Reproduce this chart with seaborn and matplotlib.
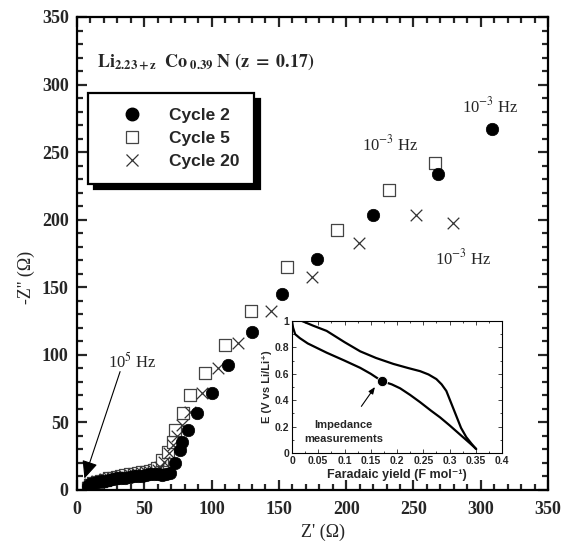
import matplotlib
matplotlib.use("Agg")
import matplotlib.pyplot as plt
import seaborn as sns
import pandas as pd
from matplotlib.ticker import MultipleLocator
from matplotlib.lines import Line2D

# ---------------- data ----------------
c2_re = [8, 10, 12, 15, 18, 21, 24, 27, 30, 33, 36, 39, 42, 45, 48, 51, 54, 57, 60, 63, 66, 69, 73, 76.5, 78, 82.7, 89, 100, 112.4, 130, 152, 178, 220, 268, 308]
c2_im = [3, 4.5, 5.5, 6, 6.5, 7, 7.5, 8, 8.5, 8.8, 9, 9.5, 10, 10.3, 10.7, 11, 11.5, 12, 12, 11, 11.5, 12.4, 19.8, 29.6, 35.7, 44.4, 56.8, 71.6, 92.5, 117, 145, 171, 203.5, 234, 267]

c5_re = [8, 10, 12, 15, 18, 21, 24, 27, 30, 33, 36, 39, 42, 45, 48, 51, 54, 57, 59.2, 62.9, 67.8, 71.5, 72.8, 79, 84, 95, 110, 129.3, 155.8, 193, 232, 266]
c5_im = [1.5, 4, 5, 6, 7, 7.5, 8.5, 9, 9.5, 10.5, 11, 11.5, 12, 12.5, 13, 13.5, 14, 15, 16, 22.2, 28.3, 35.7, 44.4, 56.8, 70.3, 86.8, 107.3, 132.5, 164.8, 192.4, 222, 242]

c20_re = [8, 10, 12, 15, 18, 21, 24, 27, 30, 33, 36, 39, 42, 45, 48, 51, 54, 57, 60, 62, 65, 68, 71, 74, 78, 84, 92.6, 105, 119.8, 143.9, 174.4, 209.5, 251.6, 279.6]
c20_im = [2, 4.5, 5.5, 6.5, 7, 8, 8.5, 9, 9.5, 10, 10.5, 11, 11.5, 12, 12.5, 13, 13.5, 14, 14.5, 17, 21, 27, 33, 40, 48, 58, 71.6, 90, 108.6, 132.5, 157.9, 182.6, 203.5, 197.4]

series_labels = ["Cycle 2", "Cycle 5", "Cycle 20"]

# inset: potential vs faradaic yield
dis_x = [0.0, 0.002, 0.006, 0.015, 0.03, 0.066, 0.1, 0.13, 0.15, 0.171, 0.19, 0.206, 0.225, 0.244, 0.265, 0.282, 0.3, 0.32, 0.34, 0.351]
dis_y = [1.0, 0.95, 0.9, 0.87, 0.83, 0.76, 0.7, 0.645, 0.6, 0.545, 0.52, 0.49, 0.44, 0.385, 0.32, 0.27, 0.21, 0.14, 0.07, 0.03]
chg_x = [0.019, 0.04, 0.066, 0.1, 0.13, 0.16, 0.193, 0.22, 0.244, 0.26, 0.275, 0.285, 0.294, 0.303, 0.313, 0.322, 0.332, 0.342, 0.35]
chg_y = [1.0, 0.965, 0.925, 0.84, 0.77, 0.72, 0.675, 0.645, 0.62, 0.595, 0.56, 0.52, 0.47, 0.38, 0.28, 0.19, 0.12, 0.07, 0.033]
meas_x = [0.171]
meas_y = [0.545]

x_ticks = [0, 50, 100, 150, 200, 250, 300, 350]
y_ticks = [0, 50, 100, 150, 200, 250, 300, 350]
inset_x_ticks = [0, 0.05, 0.1, 0.15, 0.2, 0.25, 0.3, 0.35, 0.4]
inset_x_labels = ["0", "0.05", "0.1", "0.15", "0.2", "0.25", "0.3", "0.35", "0.4"]
inset_y_ticks = [0, 0.2, 0.4, 0.6, 0.8, 1.0]
inset_y_labels = ["0", "0.2", "0.4", "0.6", "0.8", "1"]

# ---------------- style ----------------
sns.set_theme(style="ticks")
plt.rcParams["font.family"] = ["Liberation Serif", "DejaVu Serif"]
plt.rcParams["mathtext.fontset"] = "stix"
plt.rcParams["axes.linewidth"] = 1.6

df = pd.concat([
    pd.DataFrame({"re": c2_re, "im": c2_im, "cycle": series_labels[0]}),
    pd.DataFrame({"re": c5_re, "im": c5_im, "cycle": series_labels[1]}),
    pd.DataFrame({"re": c20_re, "im": c20_im, "cycle": series_labels[2]}),
])

fig = plt.figure(figsize=(5.61, 5.41), dpi=100)
ax = fig.add_axes([0.1373, 0.0943, 0.8396, 0.8743])

sub = df[df.cycle == "Cycle 2"]
sns.scatterplot(data=sub, x="re", y="im", ax=ax, marker="o", color="black",
                s=80, edgecolor="black", linewidth=0.5, legend=False, zorder=3)
sub = df[df.cycle == "Cycle 5"]
sns.scatterplot(data=sub, x="re", y="im", ax=ax, marker="s", s=65,
                facecolor="white", edgecolor="#444444", linewidth=0.9, legend=False, zorder=2)
sub = df[df.cycle == "Cycle 20"]
sns.scatterplot(data=sub, x="re", y="im", ax=ax, marker="x", s=70,
                color="#333333", linewidth=0.9, legend=False, zorder=2)

ax.set_xlim(0, 350)
ax.set_ylim(0, 350)
ax.set_xticks(x_ticks)
ax.set_yticks(y_ticks)
ax.xaxis.set_minor_locator(MultipleLocator(10))
ax.yaxis.set_minor_locator(MultipleLocator(10))
ax.tick_params(which="both", direction="in", top=True, right=True, width=1.6)
ax.tick_params(which="major", length=7)
ax.tick_params(which="minor", length=4)
ax.tick_params(axis="x", pad=8)
ax.tick_params(axis="y", pad=6)
for lab in ax.get_xticklabels() + ax.get_yticklabels():
    lab.set_fontweight("bold")
    lab.set_fontsize(13)
for sp in ax.spines.values():
    sp.set_linewidth(1.6)
    sp.set_color("black")

ax.set_xlabel("Z' (Ω)", fontsize=13)
ax.set_ylabel("-Z'' (Ω)", fontsize=13)
ax.xaxis.set_label_coords(0.522, -0.072)
ax.yaxis.set_label_coords(-0.09, 0.45)

# composition text
ax.text(14.9, 313, r"$\mathbf{Li}_{\mathbf{2.23+z}}\ \ \mathbf{Co}_{\ \mathbf{0.39}}\ \mathbf{N\ (z\ =\ 0.17)}$",
        fontsize=13, ha="left", va="baseline")

# frequency annotations
ax.text(306.8, 283.5, r"10$^{-3}$ Hz", fontsize=12, ha="center", va="center")
ax.text(232.5, 255.4, r"10$^{-3}$ Hz", fontsize=12, ha="center", va="center")
ax.text(286.8, 171.7, r"10$^{-3}$ Hz", fontsize=12, ha="center", va="center")
ax.text(41.2, 95, r"10$^{5}$ Hz", fontsize=12, ha="center", va="center")
ax.annotate("", xy=(5.5, 8.5), xytext=(32, 87.6),
            arrowprops=dict(arrowstyle="-|>,head_length=0.9,head_width=0.4",
                            color="black", lw=0.8, shrinkA=0, shrinkB=0))

# legend
handles = [
    Line2D([], [], marker="o", ls="none", color="black", markersize=9),
    Line2D([], [], marker="s", ls="none", markerfacecolor="white",
           markeredgecolor="#444444", markersize=8, markeredgewidth=0.9),
    Line2D([], [], marker="x", ls="none", color="#333333", markersize=9, markeredgewidth=0.9),
]
leg = fig.legend(handles, series_labels, loc="upper left",
                 bbox_to_anchor=(88 / 561, 1 - 93 / 541),
                 prop={"family": ["Liberation Sans", "DejaVu Sans"], "weight": "bold", "size": 12.5},
                 frameon=True, fancybox=False, edgecolor="black",
                 shadow={"color": "black", "alpha": 1, "ox": 4, "oy": -4},
                 handlelength=3.4, handletextpad=0.4, labelspacing=0.45,
                 borderpad=0.85, borderaxespad=0)
leg.get_frame().set_linewidth(1.6)

# ---------------- inset ----------------
axi = fig.add_axes([292 / 561, 1 - 453 / 541, 210 / 561, 132 / 541])
sfam = ["Liberation Sans", "DejaVu Sans"]
sns.lineplot(x=dis_x, y=dis_y, ax=axi, sort=False, color="black", lw=1.6, estimator=None)
sns.lineplot(x=chg_x, y=chg_y, ax=axi, sort=False, color="black", lw=1.6, estimator=None)
sns.scatterplot(x=meas_x, y=meas_y, ax=axi, color="black", s=55, zorder=4, legend=False)
axi.set_xlim(0, 0.4)
axi.set_ylim(0, 1)
axi.set_xticks(inset_x_ticks)
axi.set_xticklabels(inset_x_labels)
axi.set_yticks(inset_y_ticks)
axi.set_yticklabels(inset_y_labels)
axi.xaxis.set_minor_locator(MultipleLocator(0.025))
axi.yaxis.set_minor_locator(MultipleLocator(0.1))
axi.tick_params(which="both", direction="in", top=True, right=True, width=0.6, pad=2)
axi.tick_params(which="major", length=3)
axi.tick_params(which="minor", length=1.5)
for lab in axi.get_xticklabels() + axi.get_yticklabels():
    lab.set_fontweight("bold")
    lab.set_fontsize(7.5)
    lab.set_family(sfam)
for sp in axi.spines.values():
    sp.set_linewidth(0.8)
    sp.set_color("black")
axi.set_xlabel("Faradaic yield (F mol⁻¹)", fontsize=9, fontweight="bold", family=sfam, labelpad=2)
axi.set_ylabel("E (V vs Li/Li⁺)", fontsize=8, fontweight="bold", family=sfam, labelpad=2)
axi.annotate("Impedance\nmeasurements", xy=(0.158, 0.5), xytext=(0.098, 0.16),
             fontsize=8, fontweight="bold", family=sfam, ha="center", va="center",
             linespacing=1.5,
             arrowprops=dict(arrowstyle="-|>,head_length=0.5,head_width=0.2",
                             color="black", lw=0.8, shrinkA=9, shrinkB=0))

fig.savefig("out.png", dpi=100)
